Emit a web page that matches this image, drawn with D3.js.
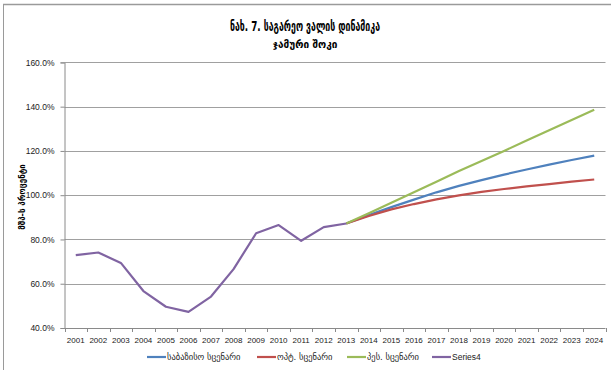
<!DOCTYPE html>
<html>
<head>
<meta charset="utf-8">
<script src="https://cdn.jsdelivr.net/npm/d3@7"></script>
<style>
  body { margin: 0; background: #fff; }
  svg { display: block; }
</style>
</head>
<body>
<div id="chart"></div>
<script>
// categories and values
const years = ['2001','2002','2003','2004','2005','2006','2007','2008','2009','2010','2011','2012',
               '2013','2014','2015','2016','2017','2018','2019','2020','2021','2022','2023','2024'];
const histYears = years.slice(0, 13);
const scenYears = years.slice(12);

const series4 = [72.9, 74.1, 69.4, 56.7, 49.6, 47.3, 54.2, 66.6, 82.8, 86.5, 79.4, 85.6, 87.2];
const baseline = [87.2, 91.0, 94.6, 98.0, 101.3, 104.2, 106.8, 109.3, 111.6, 113.8, 115.9, 117.9];
const optimistic = [87.2, 90.6, 93.6, 96.0, 98.1, 99.9, 101.5, 102.8, 104.0, 105.0, 106.1, 107.1];
const pessimistic = [87.2, 91.8, 96.6, 101.3, 106.1, 110.9, 115.4, 120.0, 124.7, 129.3, 134.0, 138.6];

const yTicks = [40, 60, 80, 100, 120, 140, 160];

const seriesNames = ['საბაზისო სცენარი', 'ოპტ. სცენარი', 'პეს. სცენარი', 'Series4'];
const seriesColors = ['#4F81BD', '#C0504D', '#9BBB59', '#8064A2'];

(function() {
    const width = 611, height = 370;
    const plot = { left: 64.5, right: 605.5, top: 62.4, bottom: 328 };
    const latin = 'Liberation Sans, Arial, sans-serif';
    const geo = 'DejaVu Sans, sans-serif';

    const svg = d3.select('#chart').append('svg')
        .attr('width', width)
        .attr('height', height);

    // outer frame of the chart object
    svg.append('line').attr('x1', 3).attr('x2', width).attr('y1', 4.5).attr('y2', 4.5)
        .attr('stroke', '#9a9a9a').attr('stroke-width', 1.5);
    svg.append('line').attr('x1', 3.5).attr('x2', 3.5).attr('y1', 4).attr('y2', height)
        .attr('stroke', '#9a9a9a').attr('stroke-width', 1);

    const x = d3.scaleBand().domain(years).range([plot.left, plot.right]);
    const cx = d => x(d) + x.bandwidth() / 2;
    const y = d3.scaleLinear().domain([40, 160]).range([plot.bottom, plot.top]);

    // gridlines
    svg.append('g').selectAll('line')
        .data(yTicks.slice(1))
        .enter().append('line')
        .attr('x1', plot.left).attr('x2', plot.right)
        .attr('y1', d => Math.round(y(d)) + 0.5).attr('y2', d => Math.round(y(d)) + 0.5)
        .attr('stroke', '#a0a0a0').attr('stroke-width', 1);

    // y axis
    const yAxis = d3.axisLeft(y)
        .tickValues(yTicks)
        .tickSize(4)
        .tickPadding(6)
        .tickFormat(d => d.toFixed(1) + '%');
    const gy = svg.append('g')
        .attr('transform', `translate(${plot.left},0)`)
        .call(yAxis);
    gy.selectAll('text').attr('font-family', latin).attr('font-size', '8.5px').attr('fill', '#222');
    gy.selectAll('.domain, .tick line').attr('stroke', '#8a8a8a');

    // x axis: ticks between categories
    const gx = svg.append('g').attr('transform', `translate(0,${plot.bottom})`);
    gx.append('line').attr('x1', plot.left).attr('x2', plot.right).attr('y1', 0.5).attr('y2', 0.5)
        .attr('stroke', '#8a8a8a');
    gx.selectAll('.tk').data(years.concat(['end']))
        .enter().append('line')
        .attr('x1', (d, i) => Math.round(i < years.length ? x(d) : plot.right) + 0.5)
        .attr('x2', (d, i) => Math.round(i < years.length ? x(d) : plot.right) + 0.5)
        .attr('y1', 0).attr('y2', 4)
        .attr('stroke', '#8a8a8a');
    gx.selectAll('text').data(years)
        .enter().append('text')
        .attr('x', d => cx(d))
        .attr('y', 15)
        .attr('text-anchor', 'middle')
        .attr('font-family', latin)
        .attr('font-size', '8px')
        .attr('fill', '#222')
        .text(d => d);

    // series lines
    const line = d3.line().x(d => cx(d[0])).y(d => y(d[1]));
    const scen = [baseline, optimistic, pessimistic];
    scen.forEach(function(vals, i) {
        svg.append('path')
            .datum(scenYears.map((yr, j) => [yr, vals[j]]))
            .attr('d', line)
            .attr('fill', 'none')
            .attr('stroke', seriesColors[i])
            .attr('stroke-width', 2.2)
            .attr('stroke-linejoin', 'round');
    });
    svg.append('path')
        .datum(histYears.map((yr, j) => [yr, series4[j]]))
        .attr('d', line)
        .attr('fill', 'none')
        .attr('stroke', seriesColors[3])
        .attr('stroke-width', 2.2)
        .attr('stroke-linejoin', 'round');

    // titles
    svg.append('text')
        .attr('x', 305).attr('y', 31)
        .attr('text-anchor', 'middle')
        .attr('font-family', geo)
        .attr('font-weight', 'bold')
        .attr('font-size', '14px')
        .attr('textLength', 150)
        .attr('lengthAdjust', 'spacingAndGlyphs')
        .attr('fill', '#000')
        .text('ნახ. 7. საგარეო ვალის დინამიკა');
    svg.append('text')
        .attr('x', 305).attr('y', 48)
        .attr('text-anchor', 'middle')
        .attr('font-family', geo)
        .attr('font-weight', 'bold')
        .attr('font-size', '10px')
        .attr('fill', '#000')
        .text('ჯამური შოკი');

    svg.append('text')
        .attr('transform', 'translate(25,197) rotate(-90)')
        .attr('text-anchor', 'middle')
        .attr('font-family', geo)
        .attr('font-weight', 'bold')
        .attr('font-size', '8px')
        .attr('fill', '#000')
        .text('მშპ-ს პროცენტი');

    // legend
    const legX = [147, 257, 347, 432];
    const legend = svg.append('g').attr('transform', 'translate(0,357)');
    seriesNames.forEach(function(name, i) {
        const lg = legend.append('g').attr('transform', `translate(${legX[i]},0)`);
        lg.append('line').attr('x1', 0).attr('x2', 19).attr('y1', 0).attr('y2', 0)
            .attr('stroke', seriesColors[i]).attr('stroke-width', 2.2);
        lg.append('text')
            .attr('x', 20).attr('y', 3)
            .attr('font-family', i === 3 ? latin : geo)
            .attr('font-size', '8.5px')
            .attr('fill', '#222')
            .text(name);
    });
})();
</script>
</body>
</html>
